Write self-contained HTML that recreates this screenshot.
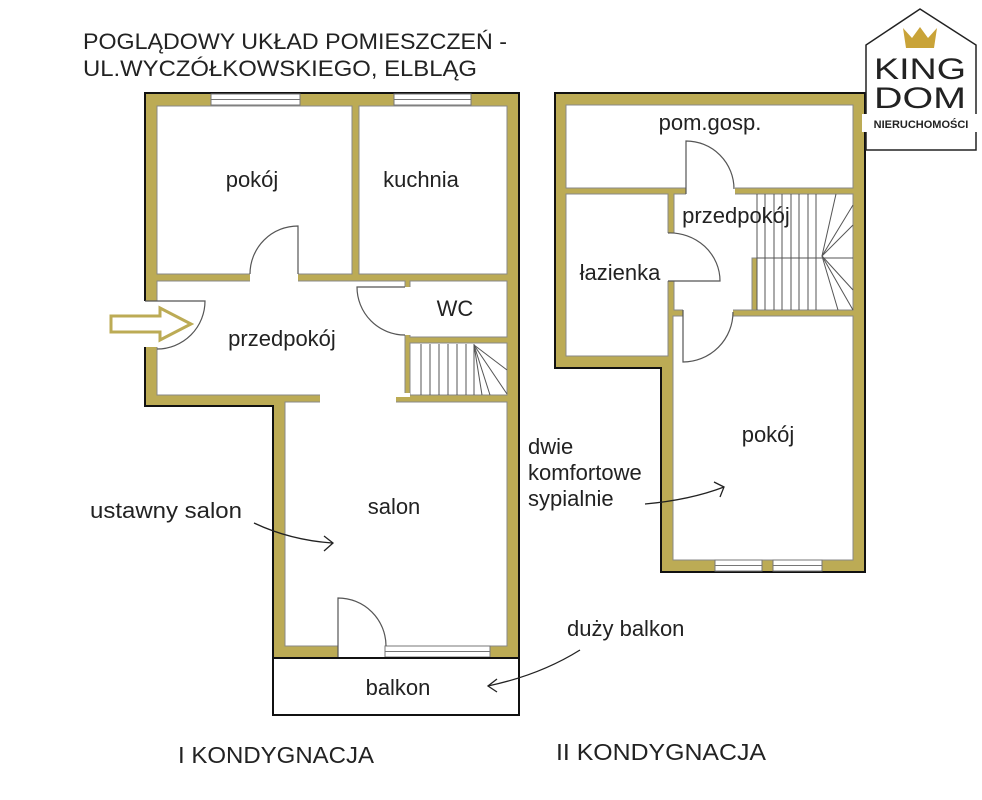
<!DOCTYPE html>
<html><head><meta charset="utf-8"><style>
html,body{margin:0;padding:0;background:#fff;}
svg{display:block;font-family:"Liberation Sans",sans-serif;}
</style></head><body>
<svg width="982" height="800" viewBox="0 0 982 800" xmlns="http://www.w3.org/2000/svg">
<rect width="982" height="800" fill="#fff"/>
<g font-size="22" fill="#222">
<text x="83" y="49" textLength="424" lengthAdjust="spacingAndGlyphs">POGLĄDOWY UKŁAD POMIESZCZEŃ -</text>
<text x="83" y="76" textLength="394" lengthAdjust="spacingAndGlyphs">UL.WYCZÓŁKOWSKIEGO, ELBLĄG</text>
<text x="178" y="763" font-size="23" textLength="196" lengthAdjust="spacingAndGlyphs">I KONDYGNACJA</text>
<text x="556" y="760" font-size="23" textLength="210" lengthAdjust="spacingAndGlyphs">II KONDYGNACJA</text>
</g>

<!-- FLOOR 1 -->
<polygon points="145,93 519,93 519,658 273,658 273,406 145,406" fill="#bcab55" stroke="#111" stroke-width="2"/>
<g fill="#fff" stroke="#888" stroke-width="1">
<rect x="157" y="106" width="195" height="168"/>
<rect x="359" y="106" width="148" height="168"/>
<rect x="157" y="281" width="248" height="114"/>
<rect x="410" y="281" width="97" height="56"/>
<rect x="410" y="343" width="97" height="52"/>
<rect x="285" y="402" width="222" height="244"/>
</g>
<g fill="#fff">
<rect x="158" y="282" width="246" height="112"/>
<rect x="320" y="390" width="76" height="20"/>
<rect x="286" y="403" width="220" height="242"/>
<rect x="250" y="272" width="48" height="11"/>
<rect x="403" y="287" width="9" height="48"/>
<rect x="143" y="301" width="16" height="46"/>
<rect x="338" y="644" width="47" height="15"/>
<rect x="396" y="393" width="14" height="4"/>
</g>
<g fill="#fff" stroke="#777" stroke-width="1">
<rect x="211" y="94" width="89" height="11"/>
<line x1="211" y1="99.5" x2="300" y2="99.5"/>
<rect x="394" y="94" width="77" height="11"/>
<line x1="394" y1="99.5" x2="471" y2="99.5"/>
<rect x="385" y="646" width="105" height="11"/>
<line x1="385" y1="651.5" x2="490" y2="651.5"/>
</g>
<g fill="none" stroke="#555" stroke-width="1.2">
<path d="M298,274 V226 A48,48 0 0 0 250,274"/>
<path d="M145,301 H205 A48,48 0 0 1 157,349"/>
<path d="M405,287 H357 A48,48 0 0 0 405,335"/>
<path d="M338,657 V598 A48,48 0 0 1 386,646"/>
</g>
<g stroke="#555" stroke-width="1" fill="none">
<line x1="421" y1="344" x2="421" y2="395"/><line x1="430" y1="344" x2="430" y2="395"/>
<line x1="439" y1="344" x2="439" y2="395"/><line x1="448" y1="344" x2="448" y2="395"/>
<line x1="457" y1="344" x2="457" y2="395"/><line x1="466" y1="344" x2="466" y2="395"/>
<line x1="474" y1="344" x2="474" y2="395"/>
<line x1="474" y1="345" x2="507" y2="370"/><line x1="474" y1="345" x2="507" y2="394"/>
<line x1="474" y1="345" x2="490" y2="395"/><line x1="474" y1="345" x2="482" y2="395"/>
</g>
<rect x="273" y="658" width="246" height="57" fill="#fff" stroke="#111" stroke-width="2"/>
<polygon points="111,316 160,316 160,308 191,324 160,340 160,332 111,332" fill="#fff" stroke="#bcab55" stroke-width="3"/>

<!-- FLOOR 2 -->
<polygon points="555,93 865,93 865,572 661,572 661,368 555,368" fill="#bcab55" stroke="#111" stroke-width="2"/>
<g fill="#fff" stroke="#888" stroke-width="1">
<rect x="566" y="105" width="287" height="83"/>
<rect x="566" y="194" width="102" height="162"/>
<rect x="674" y="194" width="179" height="116"/>
<rect x="673" y="316" width="180" height="244"/>
</g>
<g fill="#fff">
<rect x="675" y="195" width="177" height="114"/>
<rect x="686" y="186" width="49" height="10"/>
<rect x="666" y="233" width="10" height="48"/>
<rect x="683" y="308" width="50" height="10"/>
<rect x="752" y="195" width="6" height="62"/>
</g>
<rect x="752" y="258" width="5" height="52" fill="#bcab55" stroke="#888" stroke-width="1"/>
<g fill="#fff" stroke="#777" stroke-width="1">
<rect x="715" y="560" width="47" height="11"/><line x1="715" y1="565.5" x2="762" y2="565.5"/>
<rect x="773" y="560" width="49" height="11"/><line x1="773" y1="565.5" x2="822" y2="565.5"/>
</g>
<g fill="none" stroke="#555" stroke-width="1.2">
<path d="M686,194 V141 A48,48 0 0 1 734,189"/>
<path d="M668,233 A50,48 0 0 1 720,281 H668"/>
<path d="M683,310 V362 A50,50 0 0 0 733,312"/>
</g>
<g stroke="#555" stroke-width="1" fill="none">
<line x1="757" y1="194" x2="757" y2="310"/><line x1="765" y1="194" x2="765" y2="310"/>
<line x1="774" y1="194" x2="774" y2="310"/><line x1="782" y1="194" x2="782" y2="310"/>
<line x1="791" y1="194" x2="791" y2="310"/><line x1="799" y1="194" x2="799" y2="310"/>
<line x1="808" y1="194" x2="808" y2="310"/><line x1="816" y1="194" x2="816" y2="310"/>
<line x1="757" y1="258" x2="853" y2="258"/>
<line x1="822" y1="256" x2="836" y2="194"/><line x1="822" y1="256" x2="853" y2="205"/>
<line x1="822" y1="256" x2="853" y2="225"/><line x1="822" y1="256" x2="853" y2="290"/>
<line x1="822" y1="256" x2="853" y2="310"/><line x1="822" y1="256" x2="838" y2="310"/>
</g>

<g font-size="22" fill="#222" text-anchor="middle">
<text x="252" y="187">pokój</text>
<text x="421" y="187">kuchnia</text>
<text x="455" y="316">WC</text>
<text x="282" y="346">przedpokój</text>
<text x="394" y="514">salon</text>
<text x="398" y="695">balkon</text>
<text x="710" y="130">pom.gosp.</text>
<text x="736" y="223">przedpokój</text>
<text x="620" y="280">łazienka</text>
<text x="768" y="442">pokój</text>
</g>
<g font-size="22" fill="#222">
<text x="90" y="518" textLength="152" lengthAdjust="spacingAndGlyphs">ustawny salon</text>
<text x="528" y="454">dwie</text>
<text x="528" y="480">komfortowe</text>
<text x="528" y="506">sypialnie</text>
<text x="567" y="636">duży balkon</text>
</g>
<g fill="none" stroke="#222" stroke-width="1.3">
<path d="M254,523 Q290,540 332,543"/><path d="M324,536 L333,543 L324,551"/>
<path d="M645,504 Q690,500 724,487"/><path d="M714,482 L724,487 L720,497"/>
<path d="M580,650 Q540,675 488,686"/><path d="M497,679 L488,686 L497,692"/>
</g>

<!-- logo -->
<polygon points="866,150 866,45 920,9 976,45 976,150" fill="#fff" stroke="#222" stroke-width="1.5"/>
<polygon points="903,28 912,38 920,27 928,38 937,28 934,48 906,48" fill="#c9a338"/>
<g fill="#222" font-size="30" text-anchor="middle">
<text x="920" y="79" textLength="92" lengthAdjust="spacingAndGlyphs">KING</text>
<text x="920" y="108" textLength="92" lengthAdjust="spacingAndGlyphs">DOM</text>
</g>
<rect x="862" y="114" width="120" height="18" fill="#fff"/>
<text x="921" y="128" font-size="11" font-weight="bold" text-anchor="middle" fill="#222">NIERUCHOMOŚCI</text>
</svg>
</body></html>
